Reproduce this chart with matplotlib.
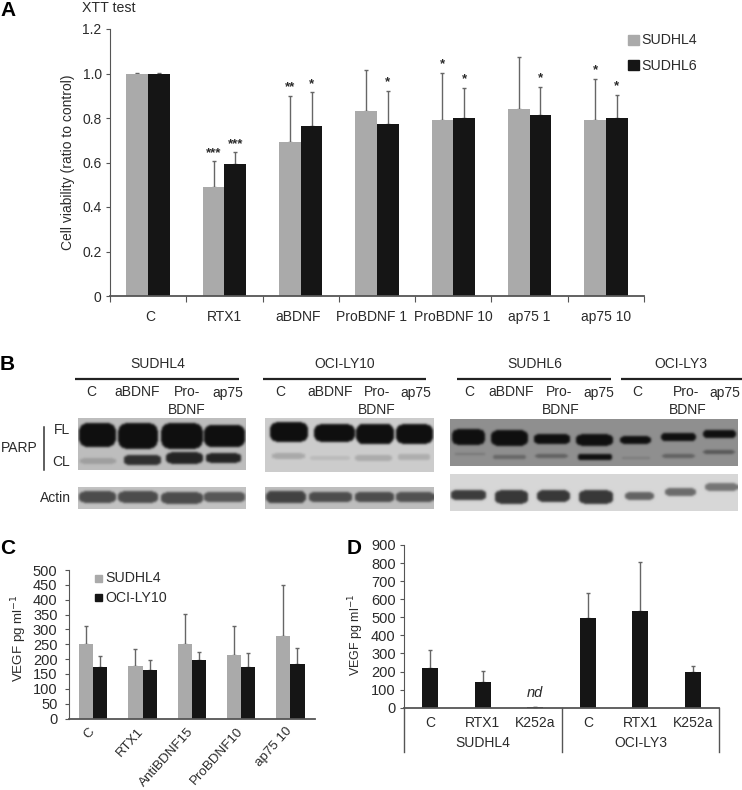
import matplotlib
matplotlib.use("Agg")
import matplotlib.pyplot as plt
import matplotlib.transforms as mtrans
import numpy as np

plt.rcParams['font.family'] = ['Liberation Sans', 'DejaVu Sans']

W, H = 742, 790
GREY = '#aaaaaa'
BLACK = '#151515'
ERR = '#666666'
AXIS = '#555555'
TEXT = '#2a2a2a'

# Panel A
a_groups = ['C', 'RTX1', 'aBDNF', 'ProBDNF 1', 'ProBDNF 10', 'ap75 1', 'ap75 10']
a_sudhl4 = [1.0, 0.49, 0.69, 0.83, 0.79, 0.84, 0.79]
a_sudhl6 = [1.0, 0.595, 0.765, 0.775, 0.80, 0.815, 0.80]
a_sudhl4_top = [1.002, 0.605, 0.90, 1.015, 1.003, 1.072, 0.975]
a_sudhl6_top = [1.002, 0.645, 0.915, 0.92, 0.935, 0.94, 0.905]
a_sudhl4_stars = ['', '***', '**', '', '*', '', '*']
a_sudhl6_stars = ['', '***', '*', '*', '*', '*', '*']
a_ticks = [0, 0.2, 0.4, 0.6, 0.8, 1.0, 1.2]
a_ticklabels = ['0', '0.2', '0.4', '0.6', '0.8', '1.0', '1.2']
a_label_shift = [0.03, 0, -0.03, -0.07, 0, 0, 0]

# Panel C
c_groups = ['C', 'RTX1', 'AntiBDNF15', 'ProBDNF10', 'ap75 10']
c_sudhl4 = [250, 178, 252, 215, 277]
c_ocily10 = [175, 162, 197, 173, 182]
c_sudhl4_top = [312, 233, 352, 310, 450]
c_ocily10_top = [210, 197, 225, 220, 237]
c_ticks = list(range(0, 501, 50))

# Panel D
d_labels = ['C', 'RTX1', 'K252a', 'C', 'RTX1', 'K252a']
d_values = [220, 143, 5, 498, 535, 197]
d_tops = [320, 205, 5, 637, 808, 228]
d_ticks = list(range(0, 901, 100))
d_cell_lines = ['SUDHL4', 'OCI-LY3']

# Panel B blots: (left, right, top, bottom, background)
blot_boxes = [
    (78, 246, 418, 470, 0.74), (265, 434, 418, 472, 0.80), (450, 738, 419, 466, 0.56),
    (78, 246, 487, 509, 0.76), (265, 434, 487, 509, 0.74), (450, 738, 474, 511, 0.84),
]
# bands: (left, right, y centre, height, darkness)
blot_bands = [
    [(79, 116, 435, 24, 0.68), (118, 158, 436, 26, 0.68), (161, 203, 436, 26, 0.68), (204, 245, 436, 23, 0.68),
     (80, 116, 461, 6, 0.12), (124, 161, 460, 11, 0.55), (166, 203, 458, 12, 0.6), (206, 241, 458, 10, 0.6)],
    [(270, 308, 432, 20, 0.74), (314, 355, 433, 18, 0.74), (356, 394, 434, 21, 0.74), (396, 433, 434, 20, 0.74),
     (272, 305, 456, 6, 0.14), (310, 350, 458, 5, 0.07), (355, 392, 458, 7, 0.13), (398, 430, 457, 7, 0.12)],
    [(452, 485, 437, 16, 0.5), (491, 528, 438, 16, 0.5), (534, 570, 439, 11, 0.5), (576, 613, 440, 12, 0.5),
     (620, 651, 440, 8, 0.5), (661, 696, 437, 9, 0.5), (703, 736, 434, 9, 0.5),
     (455, 485, 454, 3, 0.1), (493, 526, 457, 5, 0.16), (535, 568, 456, 4, 0.18), (578, 612, 457, 7, 0.5),
     (622, 650, 458, 3, 0.08), (662, 695, 456, 4, 0.18), (703, 735, 452, 4, 0.22)],
    [(79, 116, 497, 12, 0.46), (118, 158, 497, 12, 0.46), (161, 203, 498, 12, 0.46), (204, 245, 497, 11, 0.42)],
    [(266, 306, 497, 13, 0.48), (309, 352, 497, 11, 0.44), (355, 394, 497, 11, 0.44), (396, 434, 497, 11, 0.42)],
    [(451, 486, 495, 11, 0.6), (495, 528, 497, 14, 0.62), (537, 570, 496, 12, 0.62), (579, 613, 497, 14, 0.62),
     (625, 654, 496, 8, 0.45), (665, 696, 492, 8, 0.42), (705, 738, 487, 8, 0.38)],
]

# Panel B text: (x, y, label)
b_groups = [(158, 364, 'SUDHL4'), (345, 364, 'OCI-LY10'), (535, 364, 'SUDHL6'), (681, 364, 'OCI-LY3')]
b_lines = [(75, 239), (263, 426), (457, 611), (621, 742)]
b_lanes = [
    (91, 'C'), (137, 'aBDNF'), (187, 'Pro-'), (228, 'ap75'),
    (280, 'C'), (330, 'aBDNF'), (377, 'Pro-'), (416, 'ap75'),
    (469, 'C'), (511, 'aBDNF'), (559, 'Pro-'), (599, 'ap75'),
    (637, 'C'), (686, 'Pro-'), (725, 'ap75'),
]
b_lanes2 = [(187, 'BDNF'), (377, 'BDNF'), (561, 'BDNF'), (688, 'BDNF')]


def px_axes(fig, left, right, top, bottom):
    return fig.add_axes([left / W, 1 - bottom / H, (right - left) / W, (bottom - top) / H])


def style_axes(ax):
    ax.spines['top'].set_visible(False)
    ax.spines['right'].set_visible(False)
    ax.spines['left'].set_color(AXIS)
    ax.spines['bottom'].set_color(AXIS)
    ax.spines['bottom'].set_linewidth(1.3)
    ax.patch.set_alpha(0)
    ax.tick_params(colors=TEXT, color=AXIS)


def err_up(ax, x, values, tops, lw=1.0):
    values = np.array(values, dtype=float)
    tops = np.array(tops, dtype=float)
    ax.errorbar(x, values, yerr=[np.zeros(len(values)), tops - values], fmt='none',
                ecolor=ERR, elinewidth=lw, capsize=1.6, capthick=lw, zorder=1)


def blur(img, sigma=1.2):
    r = np.arange(-4, 5)
    k = np.exp(-r ** 2 / (2 * sigma ** 2))
    k = k / k.sum()
    pad = np.pad(img, 4, mode='edge')
    pad = np.apply_along_axis(lambda m: np.convolve(m, k, mode='same'), 0, pad)
    pad = np.apply_along_axis(lambda m: np.convolve(m, k, mode='same'), 1, pad)
    return pad[4:-4, 4:-4]


def blot_image(box, bands):
    left, right, top, bottom, bg = box
    xx, yy = np.meshgrid(np.arange(left, right) + 0.5, np.arange(top, bottom) + 0.5)
    img = np.full(xx.shape, float(bg))
    for x0, x1, yc, h, dark in bands:
        dx = (xx - (x0 + x1) / 2) / ((x1 - x0) / 2)
        dy = (yy - yc) / (h / 2)
        img[np.abs(dx) ** 5 + np.abs(dy) ** 3 < 1] -= dark
    return blur(np.clip(img, 0.05, 1))


fig = plt.figure(figsize=(W / 100, H / 100), dpi=100)

# Panel A
ax = px_axes(fig, 110, 644, 29, 296)
x = np.arange(len(a_groups))
bw = 0.285
ax.bar(x - bw / 2, a_sudhl4, bw, color=GREY, zorder=2)
ax.bar(x + bw / 2, a_sudhl6, bw, color=BLACK, zorder=2)
err_up(ax, x - bw / 2, a_sudhl4, a_sudhl4_top)
err_up(ax, x + bw / 2, a_sudhl6, a_sudhl6_top)
for i in range(len(a_groups)):
    ax.text(i - bw / 2, a_sudhl4_top[i] + 0.012, a_sudhl4_stars[i], ha='center', va='bottom',
            fontsize=9.5, fontweight='bold', color=TEXT)
    ax.text(i + bw / 2, a_sudhl6_top[i] + 0.012, a_sudhl6_stars[i], ha='center', va='bottom',
            fontsize=9.5, fontweight='bold', color=TEXT)
ax.set_xlim(-0.5, len(a_groups) - 0.5)
ax.set_ylim(0, 1.2)
ax.set_yticks(a_ticks)
ax.set_yticklabels(a_ticklabels, fontsize=10)
ax.set_xticks(np.arange(len(a_groups) + 1) - 0.5)
ax.set_xticklabels([])
ax.tick_params(axis='x', length=4, direction='out')
ax.tick_params(axis='y', length=3, pad=3)
for i, g in enumerate(a_groups):
    ax.text(i + a_label_shift[i], -0.093, g, ha='center', va='center', fontsize=10, color=TEXT)
ax.set_ylabel('Cell viability (ratio to control)', fontsize=10, color=TEXT, labelpad=5)
style_axes(ax)

# Panel C
ax = px_axes(fig, 68.6, 315, 570, 718.5)
x = np.arange(len(c_groups))
bw = 0.288
ax.bar(x - bw / 2, c_sudhl4, bw, color=GREY, zorder=2)
ax.bar(x + bw / 2, c_ocily10, bw, color=BLACK, zorder=2)
err_up(ax, x - bw / 2, c_sudhl4, c_sudhl4_top)
err_up(ax, x + bw / 2, c_ocily10, c_ocily10_top)
ax.set_xlim(-0.5, len(c_groups) - 0.5)
ax.set_ylim(0, 500)
ax.set_yticks(c_ticks)
ax.tick_params(axis='y', labelsize=10.5, length=3, pad=5)
ax.set_xticks(x)
ax.set_xticklabels(c_groups, rotation=48, ha='right', rotation_mode='anchor', fontsize=9.6)
ax.tick_params(axis='x', length=0, pad=5)
# labels sit a little to the left of the group centres
nudge = mtrans.ScaledTranslation(-5 / 100, 0, fig.dpi_scale_trans)
for lab in ax.get_xticklabels():
    lab.set_transform(lab.get_transform() + nudge)
ax.set_ylabel('VEGF pg ml$^{-1}$', fontsize=9.6, color=TEXT)
ax.yaxis.set_label_coords(-0.16, 0.54)
style_axes(ax)

# Panel D
ax = px_axes(fig, 404, 719, 545, 707.7)
x = np.arange(len(d_labels))
ax.bar(x, d_values, 0.3, color=BLACK, zorder=2)
err_up(ax, x, d_values, d_tops)
ax.set_xlim(-0.5, len(d_labels) - 0.5)
ax.set_ylim(0, 900)
ax.set_yticks(d_ticks)
ax.tick_params(axis='y', labelsize=10.5, length=3, pad=3)
ax.set_xticks(x)
ax.set_xticklabels(d_labels, fontsize=10)
ax.tick_params(axis='x', length=0, pad=6)
ax.set_ylabel('VEGF pg ml$^{-1}$', fontsize=9, color=TEXT)
ax.yaxis.set_label_coords(-0.12, 0.45)
ax.text(2, 45, 'nd', style='italic', ha='center', va='bottom', fontsize=10.5, color=TEXT)
style_axes(ax)

# Overlay in pixel coordinates: blots, panel letters, loose labels
ov = fig.add_axes([0, 0, 1, 1], zorder=5)
ov.set_xlim(0, W)
ov.set_ylim(H, 0)
ov.axis('off')
ov.patch.set_alpha(0)

for box, bands in zip(blot_boxes, blot_bands):
    ov.imshow(blot_image(box, bands), cmap='gray', vmin=0, vmax=1, aspect='auto',
              extent=(box[0], box[1], box[3], box[2]), interpolation='bilinear')
ov.set_xlim(0, W)
ov.set_ylim(H, 0)

for letter, lx, ly in [('A', 8, 11), ('B', 7, 364), ('C', 8, 548), ('D', 354, 548)]:
    ov.text(lx, ly, letter, fontsize=15, fontweight='bold', ha='center', va='center', color='black')

ov.text(82, 8, 'XTT test', fontsize=10.2, va='center', color=TEXT)

# Panel A legend
ov.add_patch(plt.Rectangle((628, 35), 11, 10, color=GREY))
ov.add_patch(plt.Rectangle((628, 60), 11, 10, color=BLACK))
ov.text(641, 40, 'SUDHL4', fontsize=10.2, va='center', color=TEXT)
ov.text(641, 66, 'SUDHL6', fontsize=10.2, va='center', color=TEXT)

# Panel C legend
ov.add_patch(plt.Rectangle((95, 575), 7, 7, color=GREY))
ov.add_patch(plt.Rectangle((95, 594), 7, 7, color=BLACK))
ov.text(105, 578, 'SUDHL4', fontsize=10.2, va='center', color=TEXT)
ov.text(105, 597.5, 'OCI-LY10', fontsize=10.2, va='center', color=TEXT)

# Panel B text
for gx, gy, label in b_groups:
    ov.text(gx, gy, label, fontsize=10, ha='center', va='center', color=TEXT)
for x0, x1 in b_lines:
    ov.plot([x0, x1], [378.5, 378.5], color='#222222', lw=1.6, solid_capstyle='butt')
for lx, label in b_lanes:
    ov.text(lx, 392.5, label, fontsize=10, ha='center', va='center', color=TEXT)
for lx, label in b_lanes2:
    ov.text(lx, 409.5, label, fontsize=10, ha='center', va='center', color=TEXT)
ov.text(62, 430, 'FL', fontsize=10, ha='center', va='center', color=TEXT)
ov.text(61, 462, 'CL', fontsize=10, ha='center', va='center', color=TEXT)
ov.text(1, 448, 'PARP', fontsize=10, ha='left', va='center', color=TEXT)
ov.plot([43.5, 43.5], [427, 470], color='#333333', lw=1.1)
ov.text(55, 498, 'Actin', fontsize=10, ha='center', va='center', color=TEXT)

# Panel D grouping brackets
for sx in [404, 562, 719]:
    ov.plot([sx, sx], [708, 752], color=AXIS, lw=1)
ov.text(483, 743, d_cell_lines[0], fontsize=10, ha='center', va='center', color=TEXT)
ov.text(641, 743, d_cell_lines[1], fontsize=10, ha='center', va='center', color=TEXT)

fig.savefig('out.png', dpi=100)
